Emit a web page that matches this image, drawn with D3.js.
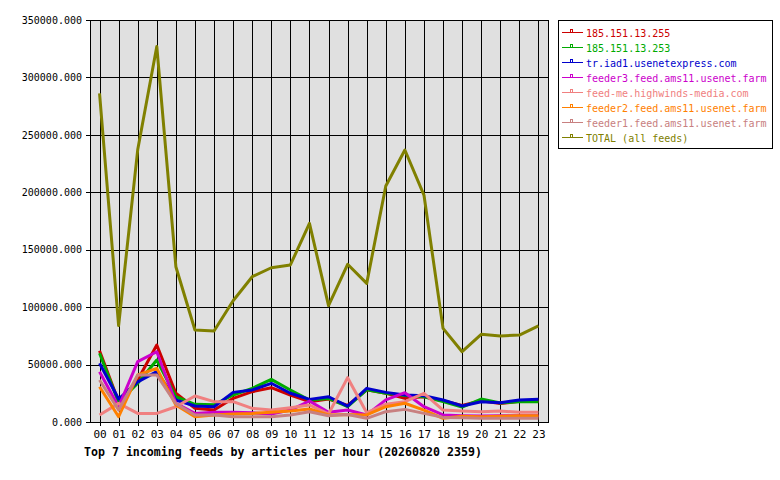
<!DOCTYPE html>
<html>
<head>
<meta charset="utf-8">
<script src="https://cdn.jsdelivr.net/npm/d3@7/dist/d3.min.js"></script>
<style>
  body { margin: 0; background: #fff; }
  svg { display: block; }
  text { font-family: 'DejaVu Sans Mono', 'Liberation Mono', monospace; }
</style>
</head>
<body>
<div id="chart"></div>
<script>
const hours = ['00', '01', '02', '03', '04', '05', '06', '07', '08', '09', '10', '11',
  '12', '13', '14', '15', '16', '17', '18', '19', '20', '21', '22', '23']

const feedNames = [
  '185.151.13.255',
  '185.151.13.253',
  'tr.iad1.usenetexpress.com',
  'feeder3.feed.ams11.usenet.farm',
  'feed-me.highwinds-media.com',
  'feeder2.feed.ams11.usenet.farm',
  'feeder1.feed.ams11.usenet.farm',
  'TOTAL (all feeds)'
]

const feed255 = [62000, 17700, 36500, 67000, 25000, 12000, 10400, 20600, 26400, 29900, 23500, 17700,
  20000, 14500, 28000, 25000, 20600, 22000, 18500, 14500, 18500, 16000, 18000, 18000]
const feed253 = [59800, 17000, 33700, 54000, 22000, 15400, 15000, 23500, 29300, 37100, 27900, 19000,
  20500, 13300, 28000, 25000, 23000, 22000, 17700, 13000, 20000, 16500, 17700, 17700]
const feedIad1 = [51100, 20000, 35000, 43800, 19200, 13900, 13300, 25800, 27900, 33700, 25000, 19700,
  22000, 13900, 29300, 25800, 23500, 22900, 19200, 13900, 17700, 16800, 19200, 19700]
const feedFeeder3 = [43800, 13300, 52500, 61200, 16300, 7500, 8400, 8400, 8000, 7000, 10400, 18300,
  8400, 10400, 6100, 19200, 25500, 13300, 6100, 5500, 5200, 5500, 5500, 5500]
const feedHighwinds = [6100, 16200, 7500, 7500, 13300, 22600, 17700, 17700, 11900, 10400, 12500, 14800,
  7000, 38600, 8100, 15400, 17700, 25000, 10400, 9600, 9000, 9600, 8400, 8400]
const feedFeeder2 = [30700, 4600, 40900, 46700, 14800, 4600, 6000, 7000, 7500, 8400, 9500, 11300,
  6100, 6500, 6100, 13300, 16300, 10400, 3200, 5000, 4500, 5000, 5500, 5500]
const feedFeeder1 = [36600, 10400, 40900, 40900, 16000, 6100, 6100, 4600, 4600, 4600, 6100, 9000,
  5500, 6500, 3200, 9000, 11000, 7500, 4000, 3800, 3200, 3200, 3200, 3200]
const feedTotal = [286200, 84000, 237000, 327000, 135200, 80100, 79200, 105600, 126500, 134300, 136700, 173000,
  101300, 137300, 120700, 205500, 236800, 197600, 81500, 61200, 76300, 74900, 75700, 83600]

const yTicks = [0, 50000, 100000, 150000, 200000, 250000, 300000, 350000]
const colors = ['#cc0000', '#00aa00', '#0000cc', '#cc00cc', '#f08080', '#ff8000', '#c88080', '#808000']

const series = [feed255, feed253, feedIad1, feedFeeder3, feedHighwinds, feedFeeder2, feedFeeder1, feedTotal]
  .map((values, i) => ({ name: feedNames[i], color: colors[i], values }))

const width = 780
const height = 480
const plot = { left: 90, right: 548, top: 20, bottom: 422 }

const svg = d3.select('#chart')
  .append('svg')
  .attr('width', width)
  .attr('height', height)

const x = d3.scalePoint()
  .domain(hours)
  .range([plot.left, plot.right])
  .padding(0.5)

const y = d3.scaleLinear()
  .domain([0, 350000])
  .range([plot.bottom, plot.top])

// plot background
svg.append('rect')
  .attr('x', plot.left)
  .attr('y', plot.top)
  .attr('width', plot.right - plot.left)
  .attr('height', plot.bottom - plot.top)
  .attr('fill', '#e0e0e0')

// grid
const grid = svg.append('g')
  .attr('stroke', '#000')
  .attr('stroke-width', 1)
  .attr('shape-rendering', 'crispEdges')

grid.selectAll('line.v')
  .data(hours)
  .join('line')
  .attr('class', 'v')
  .attr('x1', d => Math.round(x(d)) + 0.5)
  .attr('x2', d => Math.round(x(d)) + 0.5)
  .attr('y1', plot.top)
  .attr('y2', plot.bottom + 4)

grid.selectAll('line.h')
  .data(yTicks)
  .join('line')
  .attr('class', 'h')
  .attr('x1', plot.left - 4)
  .attr('x2', plot.right)
  .attr('y1', d => Math.round(y(d)) + 0.5)
  .attr('y2', d => Math.round(y(d)) + 0.5)

grid.append('rect')
  .attr('x', plot.left + 0.5)
  .attr('y', plot.top + 0.5)
  .attr('width', plot.right - plot.left)
  .attr('height', plot.bottom - plot.top)
  .attr('fill', 'none')

// axes labels
const yAxis = svg.append('g')
  .attr('transform', `translate(${plot.left},0)`)
  .call(d3.axisLeft(y).tickValues(yTicks).tickFormat(d3.format('.3f')).tickSize(0).tickPadding(8))
yAxis.select('.domain').remove()
yAxis.selectAll('text')
  .attr('font-family', "'DejaVu Sans Mono', monospace")
  .attr('font-size', 10)
  .attr('fill', '#000')

const xAxis = svg.append('g')
  .attr('transform', `translate(0,${plot.bottom})`)
  .call(d3.axisBottom(x).tickSize(0).tickPadding(8))
xAxis.select('.domain').remove()
xAxis.selectAll('text')
  .attr('font-family', "'DejaVu Sans Mono', monospace")
  .attr('font-size', 11)
  .attr('fill', '#000')

// lines
const line = d3.line()
  .x((d, i) => x(hours[i]))
  .y(d => y(d))

svg.append('g')
  .selectAll('path')
  .data(series)
  .join('path')
  .attr('d', d => line(d.values))
  .attr('fill', 'none')
  .attr('stroke', d => d.color)
  .attr('stroke-width', 3)
  .attr('stroke-linejoin', 'round')

// title
svg.append('text')
  .attr('x', 84)
  .attr('y', 456)
  .attr('font-size', 11.6)
  .attr('font-weight', 'bold')
  .attr('fill', '#000')
  .text('Top 7 incoming feeds by articles per hour (20260820 2359)')

// legend
const legend = svg.append('g')

legend.append('rect')
  .attr('x', 558.5)
  .attr('y', 20.5)
  .attr('width', 214)
  .attr('height', 128)
  .attr('fill', '#fff')
  .attr('stroke', '#000')
  .attr('shape-rendering', 'crispEdges')

const item = legend.selectAll('g.item')
  .data(series)
  .join('g')
  .attr('class', 'item')
  .attr('transform', (d, i) => `translate(0,${32.5 + i * 15})`)

item.append('line')
  .attr('x1', 562)
  .attr('x2', 583)
  .attr('y1', 0)
  .attr('y2', 0)
  .attr('stroke', d => d.color)
  .attr('stroke-width', 1)
  .attr('shape-rendering', 'crispEdges')

item.append('rect')
  .attr('x', 570.5)
  .attr('y', -3)
  .attr('width', 2)
  .attr('height', 3)
  .attr('fill', '#fff')
  .attr('stroke', d => d.color)
  .attr('shape-rendering', 'crispEdges')

item.append('text')
  .attr('x', 586)
  .attr('y', 4)
  .attr('font-size', 10)
  .attr('fill', d => d.color)
  .text(d => d.name)
</script>
</body>
</html>
